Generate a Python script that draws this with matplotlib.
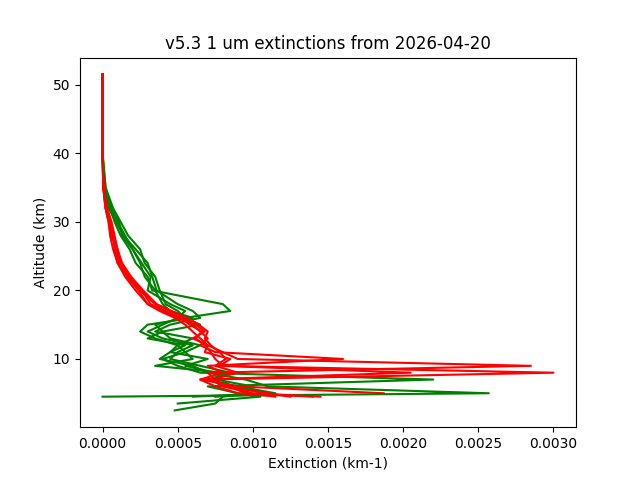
import numpy as np
import matplotlib
matplotlib.use("Agg")
import matplotlib.pyplot as plt

# altitude grid (km), shared by all profiles; NaN where a profile has no data
altitude = [51.5, 45, 40, 35, 32, 30, 28, 26, 24, 22, 20, 18, 17, 16, 15, 14,
            13, 12, 11, 10, 9, 8, 7, 6, 5, 4.5, 3.5, 2.5]

nan = np.nan
# extinction values in units of 1e-3 km-1
green_profiles = [
    [0, 0, 0, 0.01, 0.05, 0.08, 0.12, 0.18, 0.22, 0.30, 0.33, 0.80, 0.85, 0.55, 0.65, 0.40, 0.30, 0.55, 0.45, 0.38, 0.60, 0.70, 0.95, 1.10, 2.57, 0.0, nan, nan],
    [0, 0, 0, 0.02, 0.06, 0.10, 0.15, 0.20, 0.25, 0.28, 0.35, 0.40, 0.45, 0.60, 0.30, 0.25, 0.35, 0.50, 0.55, 0.40, 0.50, 0.65, 2.20, 0.70, 0.90, 1.05, 0.50, nan],
    [0, 0, 0, 0.01, 0.04, 0.09, 0.14, 0.22, 0.30, 0.33, 0.36, 0.50, 0.60, 0.65, 0.45, 0.35, 0.60, 0.50, 0.45, 0.70, 0.55, 0.75, 0.80, 0.85, 1.10, 0.60, nan, nan],
    [0, 0, 0, 0.02, 0.07, 0.12, 0.17, 0.25, 0.28, 0.35, 0.38, 0.42, 0.50, 0.55, 0.35, 0.40, 0.45, 0.65, 0.55, 0.60, 0.35, 0.80, 0.75, 1.00, 0.95, 0.80, 0.75, 0.48],
    [0, 0, 0, 0.01, 0.05, 0.11, 0.13, 0.20, 0.26, 0.32, 0.30, 0.45, 0.55, 0.50, 0.40, 0.30, 0.40, 0.60, 0.50, 0.45, 0.65, 0.85, 0.70, 0.90, 1.15, 0.75, nan, nan],
]
red_profiles = [
    [0, 0, 0, 0.005, 0.02, 0.04, 0.06, 0.10, 0.12, 0.18, 0.25, 0.35, 0.45, 0.55, 0.60, 0.65, 0.70, 0.65, 0.75, 1.60, 0.70, 0.80, 0.65, 0.90, 1.87, nan, nan, nan],
    [0, 0, 0, 0.005, 0.02, 0.05, 0.07, 0.08, 0.10, 0.15, 0.22, 0.30, 0.40, 0.50, 0.62, 0.68, 0.60, 0.70, 0.80, 0.90, 2.85, 0.70, 0.75, 0.80, 1.00, 1.45, nan, nan],
    [0, 0, 0, 0.005, 0.03, 0.05, 0.06, 0.09, 0.11, 0.17, 0.26, 0.32, 0.42, 0.52, 0.58, 0.66, 0.62, 0.68, 0.72, 0.75, 0.80, 3.00, 0.70, 0.85, 0.95, 1.15, nan, nan],
    [0, 0, 0, 0.005, 0.02, 0.04, 0.05, 0.07, 0.10, 0.16, 0.24, 0.30, 0.38, 0.48, 0.55, 0.60, 0.65, 0.70, 0.68, 0.85, 0.78, 2.05, 0.65, 0.75, 0.90, 1.40, nan, nan],
    [0, 0, 0, 0.005, 0.03, 0.06, 0.08, 0.10, 0.13, 0.19, 0.27, 0.36, 0.46, 0.56, 0.64, 0.70, 0.68, 0.72, 0.78, 0.82, 0.75, 0.90, 0.72, 0.80, 1.10, 1.25, nan, nan],
]

fig, ax = plt.subplots(figsize=(6.4, 4.8), dpi=100)
alt = np.array(altitude)
for prof in green_profiles:
    ax.plot(np.array(prof) * 1e-3, alt, color="green")
for prof in red_profiles:
    ax.plot(np.array(prof) * 1e-3, alt, color="red")

ax.set_title("v5.3 1 um extinctions from 2026-04-20")
ax.set_xlabel("Extinction (km-1)")
ax.set_ylabel("Altitude (km)")
fig.savefig("out.png")
